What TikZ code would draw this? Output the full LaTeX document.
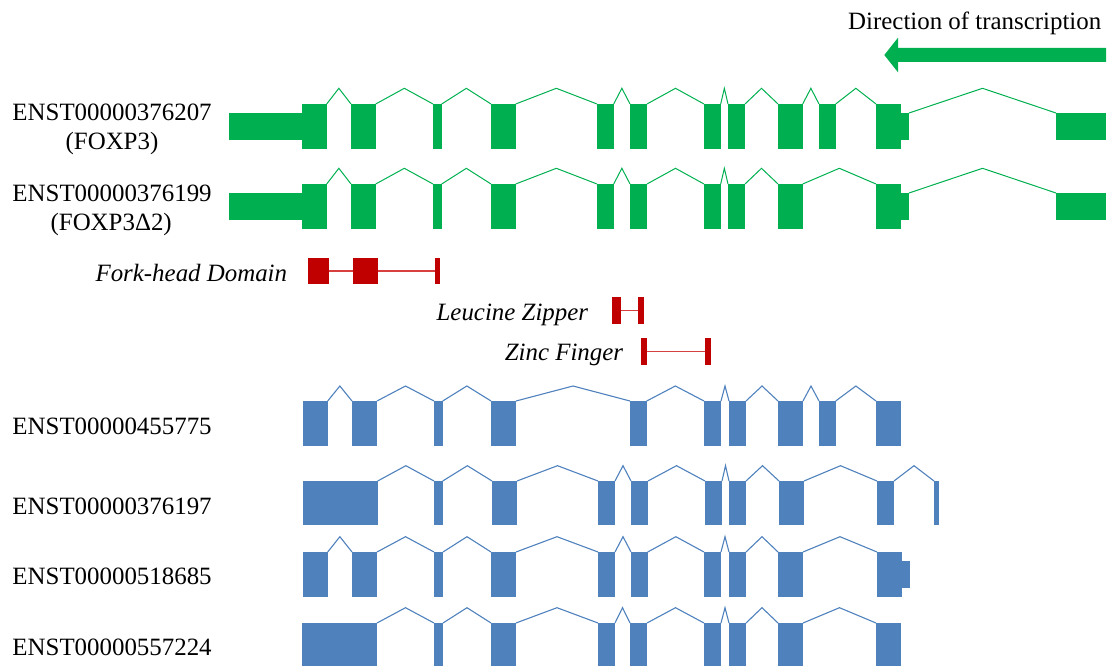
\documentclass[tikz,border=0pt]{standalone}
\usepackage{fontspec}
\setmainfont{Liberation Serif}
\usetikzlibrary{calc}
\definecolor{exgreen}{HTML}{00B050}
\definecolor{exblue}{HTML}{4F81BD}
\definecolor{domred}{HTML}{C00000}
\definecolor{domline}{HTML}{D84040}

\tikzset{
  blk/.style={draw=none, inner sep=0pt, outer sep=0pt},
  gx/.style={blk, fill=exgreen},
  bx/.style={blk, fill=exblue},
  rx/.style={blk, fill=domred},
  gl/.style={draw=exgreen, line width=1pt},
  bl/.style={draw=exblue, line width=1.1pt},
  domlink/.style={draw=domline, line width=1.5pt},
  lbl/.style={inner sep=0pt, font=\fontsize{24.9}{29}\selectfont},
  dom/.style={inner sep=0pt, font=\fontsize{24.9}{29}\selectfont\itshape},
}

% exon block spanning x1..x2 at the current row height
\newcommand\ex[4]{\node[#1, anchor=north west, minimum width={(#4-#3)*1pt},
  minimum height={(\rowB-\rowT)*1pt}] (#2) at (#3,\rowT) {};}
% untranslated region (thinner block)
\newcommand\utr[4]{\node[#1, anchor=north west, minimum width={(#4-#3)*1pt},
  minimum height={(\utrB-\utrT)*1pt}] (#2) at (#3,\utrT) {};}
% intron: peaked line from one exon to the next
\newcommand\intr[4]{\draw[#1] (#2.north east) --
  ($(#2.north east)!.5!(#3.north west)+(0,-#4)$) -- (#3.north west);}

\begin{document}
\begin{tikzpicture}[x=1pt,y=-1pt]
\useasboundingbox (0,0) rectangle (1109,666);

% direction of transcription
\node[lbl, anchor=base west] (dir) at (848,30) {Direction of transcription};
\fill[exgreen] (1106,48) -- (898,48) -- (898,37.7) -- (884.3,55) -- (898,72.3)
  -- (898,62) -- (1106,62) -- cycle;

% transcript labels
\node[lbl, anchor=base west] (l1) at (12.3,121) {ENST00000376207};
\node[lbl, anchor=base] (l1b) at (112,150) {(FOXP3)};
\node[lbl, anchor=base west] (l2) at (12.3,201) {ENST00000376199};
\node[lbl, anchor=base] (l2b) at (111.2,230) {(FOXP3Δ2)};
\node[lbl, anchor=base west] (l3) at (12.3,434) {ENST00000455775};
\node[lbl, anchor=base west] (l4) at (12.3,514) {ENST00000376197};
\node[lbl, anchor=base west] (l5) at (12.3,584.3) {ENST00000518685};
\node[lbl, anchor=base west] (l6) at (12.3,655) {ENST00000557224};

% ---- FOXP3 ----
\def\rowT{104}\def\rowB{148.7}\def\utrT{113}\def\utrB{140}
\utr{gx}{g1u}{229}{302}
\ex{gx}{g1a}{302}{326.7}
\ex{gx}{g1b}{351}{375.7}
\ex{gx}{g1c}{433}{441.7}
\ex{gx}{g1d}{491}{515.7}
\ex{gx}{g1e}{597}{613.7}
\ex{gx}{g1f}{630}{647}
\ex{gx}{g1g}{704}{720.7}
\ex{gx}{g1h}{728}{745}
\ex{gx}{g1i}{778}{802.7}
\ex{gx}{g1j}{819}{835.7}
\ex{gx}{g1k}{876}{901}
\utr{gx}{g1x}{901}{909}
\utr{gx}{g1v}{1056}{1105.7}
\intr{gl}{g1a}{g1b}{15.7}
\intr{gl}{g1b}{g1c}{15.7}
\intr{gl}{g1c}{g1d}{15.7}
\intr{gl}{g1d}{g1e}{15.7}
\intr{gl}{g1e}{g1f}{15.7}
\intr{gl}{g1f}{g1g}{15.7}
\intr{gl}{g1g}{g1h}{15.7}
\intr{gl}{g1h}{g1i}{15.7}
\intr{gl}{g1i}{g1j}{15.7}
\intr{gl}{g1j}{g1k}{15.7}
\intr{gl}{g1x}{g1v}{24.7}

% ---- FOXP3 delta 2 ----
\def\rowT{184}\def\rowB{228.7}\def\utrT{193}\def\utrB{219.7}
\utr{gx}{g2u}{229}{302}
\ex{gx}{g2a}{302}{326.7}
\ex{gx}{g2b}{351}{375.7}
\ex{gx}{g2c}{433}{441.7}
\ex{gx}{g2d}{491}{515.7}
\ex{gx}{g2e}{597}{613.7}
\ex{gx}{g2f}{630}{647}
\ex{gx}{g2g}{704}{720.7}
\ex{gx}{g2h}{728}{745}
\ex{gx}{g2i}{778}{802.7}
\ex{gx}{g2k}{876}{901}
\utr{gx}{g2x}{901}{909}
\utr{gx}{g2v}{1056}{1105.7}
\intr{gl}{g2a}{g2b}{15.7}
\intr{gl}{g2b}{g2c}{15.7}
\intr{gl}{g2c}{g2d}{15.7}
\intr{gl}{g2d}{g2e}{15.7}
\intr{gl}{g2e}{g2f}{15.7}
\intr{gl}{g2f}{g2g}{15.7}
\intr{gl}{g2g}{g2h}{15.7}
\intr{gl}{g2h}{g2i}{15.7}
\intr{gl}{g2i}{g2k}{15.7}
\intr{gl}{g2x}{g2v}{24.7}

% ---- protein domains ----
\def\rowT{258}\def\rowB{284.3}
\ex{rx}{fh1}{308}{329}
\ex{rx}{fh2}{353}{377.7}
\ex{rx}{fh3}{435}{439.7}
\draw[domlink] (fh1.east) -- (fh2.west);
\draw[domlink] (fh2.east) -- (fh3.west);
\node[dom, anchor=base east] (fhl) at (287.3,281.7) {Fork-head Domain};

\def\rowT{297}\def\rowB{323.7}
\ex{rx}{lz1}{612}{620.7}
\ex{rx}{lz2}{638}{643.7}
\draw[domlink] (lz1.east) -- (lz2.west);
\node[dom, anchor=base east] (lzl) at (588.3,320) {Leucine Zipper};

\def\rowT{338}\def\rowB{364.7}
\ex{rx}{zf1}{641}{647}
\ex{rx}{zf2}{704.7}{710.7}
\draw[domlink] (zf1.east) -- (zf2.west);
\node[dom, anchor=base east] (zfl) at (623.3,360) {Zinc Finger};

% ---- ENST00000455775 ----
\def\rowT{401}\def\rowB{445.7}
\ex{bx}{b1a}{303}{327.7}
\ex{bx}{b1b}{352}{377}
\ex{bx}{b1c}{434}{442.7}
\ex{bx}{b1d}{491}{516}
\ex{bx}{b1f}{630}{646.7}
\ex{bx}{b1g}{704}{721}
\ex{bx}{b1h}{729}{746}
\ex{bx}{b1i}{778}{803}
\ex{bx}{b1j}{819}{835.7}
\ex{bx}{b1k}{876}{901}
\intr{bl}{b1a}{b1b}{15}
\intr{bl}{b1b}{b1c}{15}
\intr{bl}{b1c}{b1d}{15}
\intr{bl}{b1d}{b1f}{15}
\intr{bl}{b1f}{b1g}{15}
\intr{bl}{b1g}{b1h}{15}
\intr{bl}{b1h}{b1i}{15}
\intr{bl}{b1i}{b1j}{15}
\intr{bl}{b1j}{b1k}{15}

% ---- ENST00000376197 ----
\def\rowT{481}\def\rowB{525}
\ex{bx}{b2a}{303}{377.7}
\ex{bx}{b2c}{434}{442.7}
\ex{bx}{b2d}{492}{517}
\ex{bx}{b2e}{598}{615}
\ex{bx}{b2f}{631}{648}
\ex{bx}{b2g}{705}{722}
\ex{bx}{b2h}{729}{746}
\ex{bx}{b2i}{779}{804}
\ex{bx}{b2k}{877}{894}
\ex{bx}{b2l}{934}{938.7}
\intr{bl}{b2a}{b2c}{15.3}
\intr{bl}{b2c}{b2d}{15.3}
\intr{bl}{b2d}{b2e}{15.3}
\intr{bl}{b2e}{b2f}{15.3}
\intr{bl}{b2f}{b2g}{15.3}
\intr{bl}{b2g}{b2h}{15.3}
\intr{bl}{b2h}{b2i}{15.3}
\intr{bl}{b2i}{b2k}{15.3}
\intr{bl}{b2k}{b2l}{15.3}

% ---- ENST00000518685 ----
\def\rowT{552}\def\rowB{596.7}\def\utrT{561}\def\utrB{587.7}
\ex{bx}{b3a}{303}{327.7}
\ex{bx}{b3b}{352}{377}
\ex{bx}{b3c}{434}{443}
\ex{bx}{b3d}{491}{516}
\ex{bx}{b3e}{598}{615}
\ex{bx}{b3f}{631}{647.7}
\ex{bx}{b3g}{704}{721}
\ex{bx}{b3h}{729}{746}
\ex{bx}{b3i}{778}{803}
\ex{bx}{b3k}{877}{902}
\utr{bx}{b3x}{902}{910}
\intr{bl}{b3a}{b3b}{15.3}
\intr{bl}{b3b}{b3c}{15.3}
\intr{bl}{b3c}{b3d}{15.3}
\intr{bl}{b3d}{b3e}{15.3}
\intr{bl}{b3e}{b3f}{15.3}
\intr{bl}{b3f}{b3g}{15.3}
\intr{bl}{b3g}{b3h}{15.3}
\intr{bl}{b3h}{b3i}{15.3}
\intr{bl}{b3i}{b3k}{15.3}

% ---- ENST00000557224 ----
\def\rowT{623}\def\rowB{666}
\ex{bx}{b4a}{302}{377}
\ex{bx}{b4c}{434}{443}
\ex{bx}{b4d}{491}{516}
\ex{bx}{b4e}{598}{615}
\ex{bx}{b4f}{630}{647}
\ex{bx}{b4g}{704}{721}
\ex{bx}{b4h}{729}{746}
\ex{bx}{b4i}{778}{803}
\ex{bx}{b4k}{876}{901}
\intr{bl}{b4a}{b4c}{15.3}
\intr{bl}{b4c}{b4d}{15.3}
\intr{bl}{b4d}{b4e}{15.3}
\intr{bl}{b4e}{b4f}{15.3}
\intr{bl}{b4f}{b4g}{15.3}
\intr{bl}{b4g}{b4h}{15.3}
\intr{bl}{b4h}{b4i}{15.3}
\intr{bl}{b4i}{b4k}{15.3}
\end{tikzpicture}
\end{document}
